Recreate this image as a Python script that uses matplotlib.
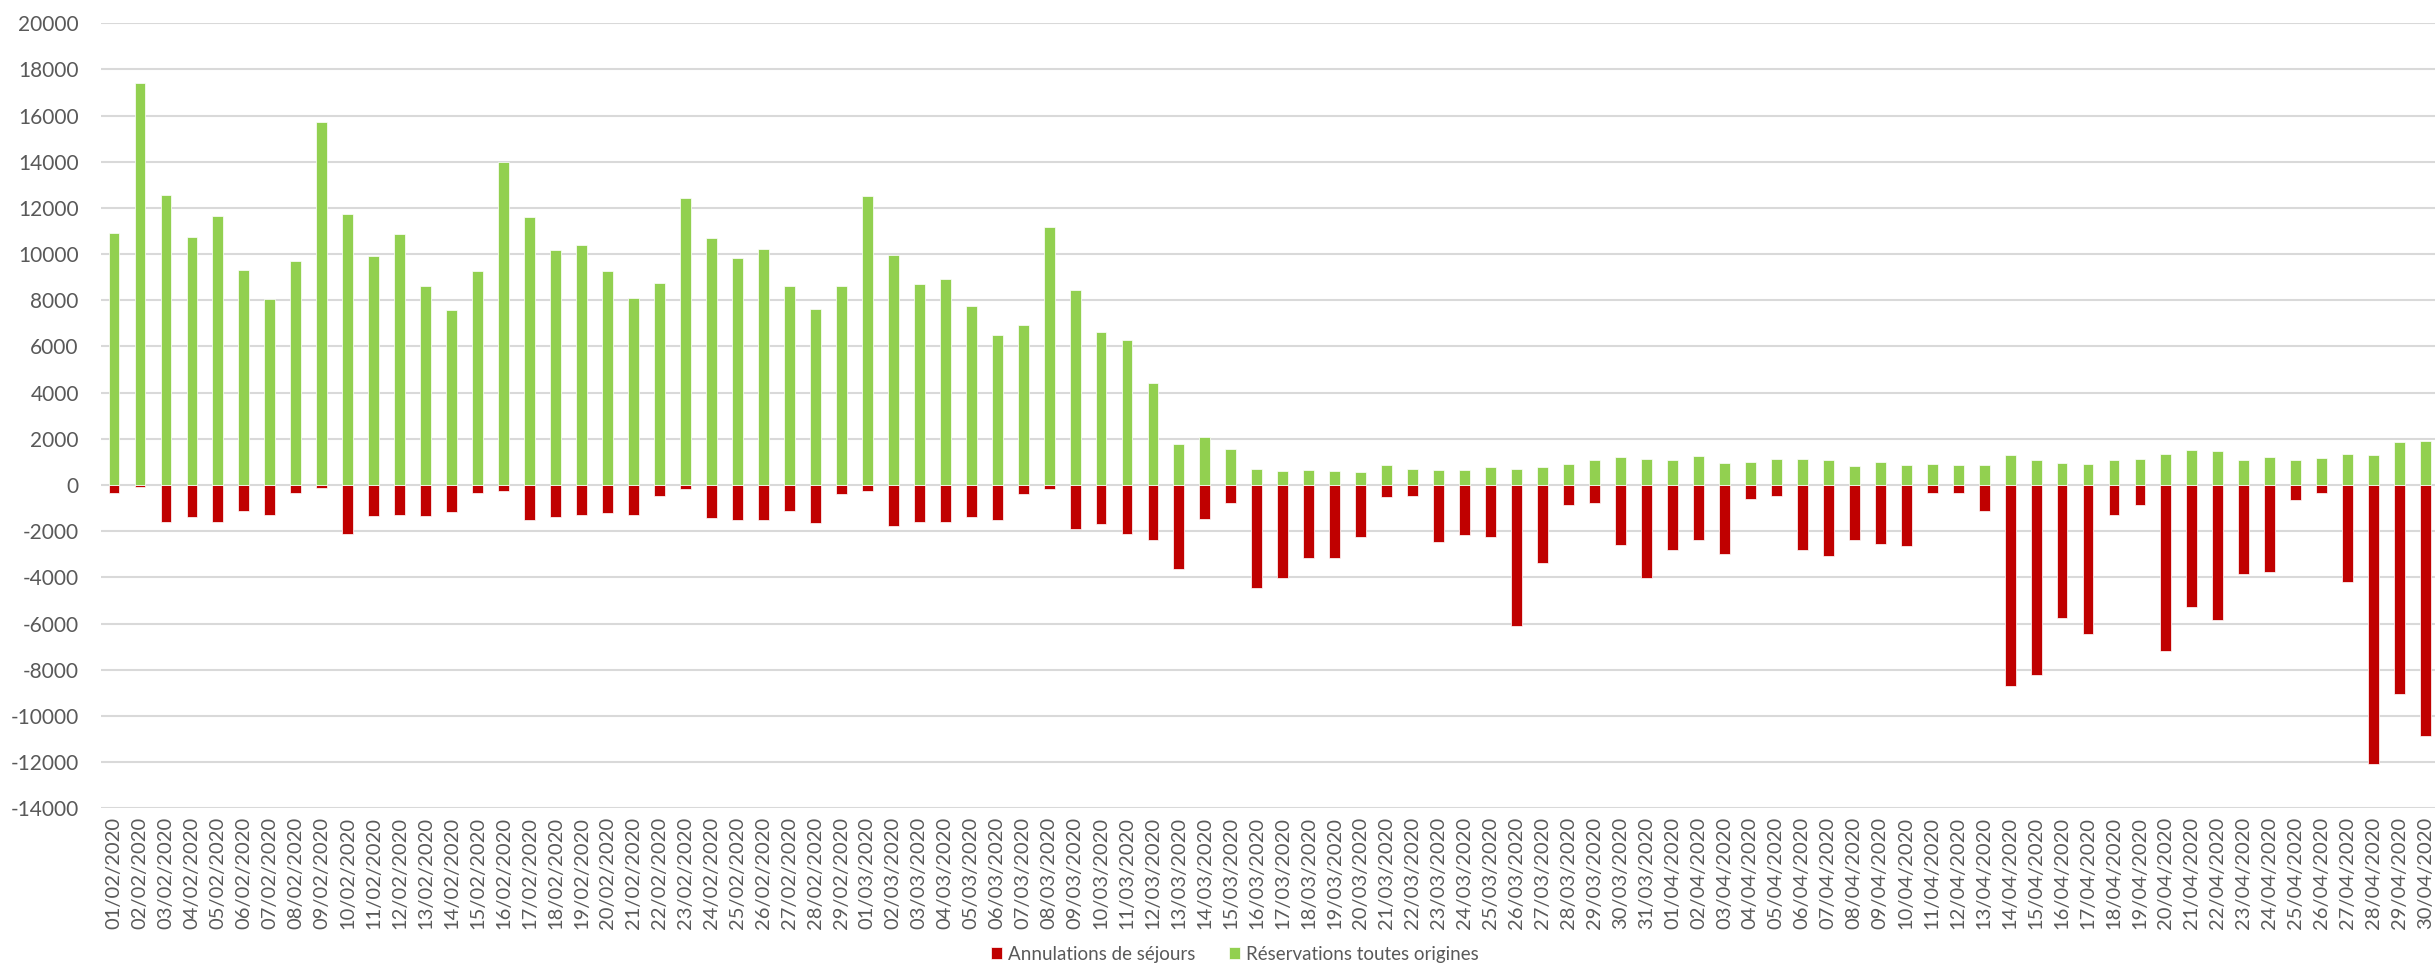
import pandas as pd
import matplotlib
matplotlib.use('Agg')
from matplotlib import pyplot as plt

plt.rcParams['font.family'] = ['Lato', 'DejaVu Sans']
plt.rcParams['axes.unicode_minus'] = False

# jours du 01/02/2020 au 30/04/2020
dates = pd.date_range('2020-02-01', '2020-04-30', freq='D')
labels = [d.strftime('%d/%m/%Y') for d in dates]

reservations = [
    10900, 17400, 12550, 10760, 11650, 9320, 8040, 9690, 15730, 11720,
    9940, 10880, 8630, 7580, 9280, 13970, 11590, 10190, 10400, 9280,
    8080, 8750, 12410, 10720, 9820, 10240, 8630, 7630, 8610, 12500,
    9980, 8700, 8930, 7740, 6500, 6920, 11180, 8450, 6620, 6300,
    4400, 1790, 2080, 1580, 710, 620, 660, 620, 570, 850,
    710, 660, 660, 760, 710, 760, 920, 1080, 1210, 1120,
    1080, 1260, 960, 1010, 1120, 1120, 1080, 820, 1010, 870,
    920, 870, 870, 1280, 1080, 960, 920, 1080, 1120, 1330,
    1530, 1490, 1080, 1210, 1080, 1190, 1330, 1280, 1850, 1900,
]
annulations = [
    -350, -100, -1580, -1370, -1580, -1120, -1280, -340, -140, -2110,
    -1330, -1280, -1330, -1170, -340, -250, -1530, -1370, -1280, -1210,
    -1280, -460, -180, -1440, -1530, -1530, -1120, -1630, -390, -250,
    -1790, -1580, -1580, -1370, -1530, -390, -180, -1900, -1700, -2110,
    -2360, -3640, -1490, -760, -4470, -4010, -3180, -3140, -2270, -500,
    -460, -2450, -2150, -2270, -6110, -3390, -870, -760, -2610, -4010,
    -2820, -2360, -2980, -620, -460, -2820, -3070, -2360, -2560, -2660,
    -340, -340, -1120, -8720, -8240, -5750, -6460, -1280, -870, -7190,
    -5290, -5840, -3850, -3760, -660, -340, -4210, -12090, -9070, -10880,
]

x = range(len(labels))

fig = plt.figure(figsize=(24.35, 9.68), dpi=100)
ax = fig.add_axes([0.0415, 0.165, 0.9600, 0.811])

ax.bar(x, annulations, width=0.42, color='#C00000', edgecolor='white', linewidth=0.5,
       label='Annulations de séjours', zorder=3)
ax.bar(x, reservations, width=0.42, color='#92D050', edgecolor='white', linewidth=0.5,
       label='Réservations toutes origines', zorder=3)

ax.set_xlim(-0.5, len(labels) - 0.5)
ax.set_ylim(-14000, 20000)
ax.set_yticks(range(-14000, 20001, 2000))
ax.set_xticks(list(x))
ax.set_xticklabels(labels, rotation=90)

ax.grid(axis='y', color='#D9D9D9', linewidth=1.5, zorder=0)
for s in ax.spines.values():
    s.set_visible(False)
ax.tick_params(axis='y', length=0, pad=16, labelsize=15, labelcolor='#595959')
ax.tick_params(axis='x', length=0, pad=6, labelsize=14.5, labelcolor='#595959')

fig.legend(loc='center', bbox_to_anchor=(0.507, 0.014), ncol=2, frameon=False,
           fontsize=13.5, labelcolor='#595959', handlelength=0.6, handleheight=0.6,
           handletextpad=0.3, columnspacing=1.8)

fig.savefig('out.png', dpi=100)
